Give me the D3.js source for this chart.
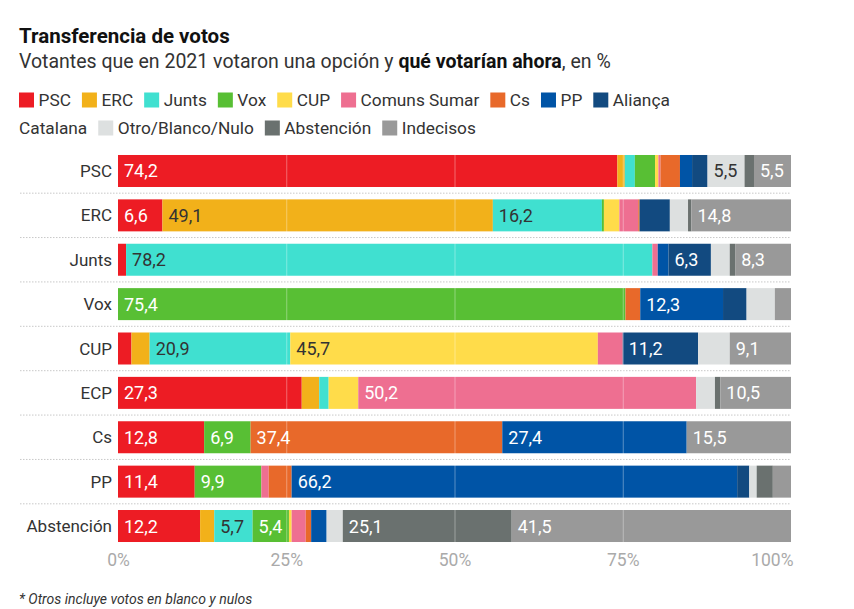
<!DOCTYPE html>
<html><head><meta charset="utf-8">
<script src="https://cdn.jsdelivr.net/npm/d3@7"></script>
<style>body{margin:0;background:#fff}svg{display:block;font-family:Roboto,sans-serif}</style>
</head><body><svg id="c" width="854" height="609"></svg>
<script>
// Voted in 2021 (rows)
const categories = ["PSC","ERC","Junts","Vox","CUP","ECP","Cs","PP","Abstención"];
// Would vote now (series)
const seriesNames = ["PSC","ERC","Junts","Vox","CUP","Comuns Sumar","Cs","PP","Aliança Catalana","Otro/Blanco/Nulo","Abstención","Indecisos"];
// values per series, in order of categories
const vPSC      = [74.2, 6.6, 1.2, 0,    2.0, 27.3, 12.8, 11.4, 12.2];
const vERC      = [1.1, 49.1, 0,   0,    2.7, 2.6,  0,    0,    2.1];
const vJunts    = [1.5, 16.2, 78.2,0,   20.9, 1.4,  0,    0,    5.7];
const vVox      = [3.0, 0.3,  0,  75.4,  0,   0,    6.9,  9.9,  5.4];
const vCUP      = [0.5, 2.3,  0,   0,   45.7, 4.4,  0,    0,    0.4];
const vComuns   = [0.3, 2.8,  0.8, 0,    3.7, 50.2, 0,    1.1,  2.1];
const vCs       = [2.9, 0.2,  0,   2.2,  0,   0,   37.4,  3.4,  0.8];
const vPP       = [1.8, 0,    1.6, 12.3, 0,   0,   27.4, 66.2,  2.3];
const vAlianca  = [2.3, 4.5,  6.3, 3.5, 11.2, 0,    0,    1.8,  0];
const vOtro     = [5.5, 2.7,  2.8, 4.2,  4.7, 2.8,  0,    1.1,  2.4];
const vAbst     = [1.4, 0.5,  0.8, 0,    0,   0.8,  0,    2.4, 25.1];
const vIndec    = [5.5, 14.8, 8.3, 2.4,  9.1, 10.5, 15.5, 2.7, 41.5];
const seriesValues = [vPSC,vERC,vJunts,vVox,vCUP,vComuns,vCs,vPP,vAlianca,vOtro,vAbst,vIndec];
const xTicks = [0,25,50,75,100];
const labelThreshold = 5;

const seriesColors = ["#ed1c24","#f2b11a","#40e0d0","#58bf34","#ffdc4a","#ee6f91","#e8692a","#0054a6","#124a80","#dde0e0","#6a716f","#999999"];
const darkText = new Set(["ERC","Junts","CUP","Otro/Blanco/Nulo"]);

const svg = d3.select("#c");
const rows = categories.map((c,i)=>{const o={cat:c}; seriesNames.forEach((s,j)=>o[s]=seriesValues[j][i]); return o;});
const stack = d3.stack().keys(seriesNames)(rows);

const x = d3.scaleLinear().domain([0,100]).range([118,791]);
const y = d3.scaleBand().domain(categories).range([148.8,548.2]).paddingInner(0.279).paddingOuter(0.1395);

// Title
svg.append("text").attr("x",19).attr("y",43).attr("font-size",20.5).attr("font-weight",700).attr("fill","#111").text("Transferencia de votos");
const sub = svg.append("text").attr("x",19).attr("y",68).attr("font-size",19.5).attr("fill","#333");
sub.append("tspan").text("Votantes que en 2021 votaron una opción y ");
sub.append("tspan").attr("font-weight",700).attr("fill","#111").text("qué votarían ahora");
sub.append("tspan").text(", en %");

// Legend with flow layout
const legend = svg.append("g");
let lx = 19, ly = 0; const lineH = 28, maxX = 700, baseY = 106, lfs = 17.3;
const measure = legend.append("text").attr("font-size",lfs).attr("visibility","hidden");
function tw(t){measure.text(t); return measure.node().getComputedTextLength();}
const spaceW = tw("a b") - tw("ab");
seriesNames.forEach((s,i)=>{
  const words = s.split(" ");
  const w0 = tw(words[0]);
  if (lx + 20 + w0 > maxX) { lx = 19; ly++; }
  legend.append("rect").attr("x",lx).attr("y",baseY+ly*lineH-13.5).attr("width",15).attr("height",15).attr("fill",seriesColors[i]);
  lx += 19.5;
  words.forEach((w,k)=>{
    const ww = tw(w);
    if (k>0) { if (lx + spaceW + ww > maxX) { lx = 19; ly++; } else lx += spaceW; }
    legend.append("text").attr("x",lx).attr("y",baseY+ly*lineH).attr("font-size",lfs).attr("fill","#333").text(w);
    lx += ww;
  });
  lx += 11;
});
measure.remove();

// Row separators
svg.append("g").selectAll("line").data(categories.slice(1)).join("line")
  .attr("x1",20).attr("x2",791)
  .attr("y1",d=>y(d)-y.step()*y.paddingInner()/2).attr("y2",d=>y(d)-y.step()*y.paddingInner()/2)
  .attr("stroke","#c8c8c8").attr("stroke-width",1).attr("stroke-dasharray","1.5,1.5");

// Bars
const gBars = svg.append("g");
stack.forEach((layer,j)=>{
  gBars.append("g").attr("fill",seriesColors[j]).selectAll("rect").data(layer.filter(d=>d[1]-d[0]>0)).join("rect")
    .attr("x",d=>x(d[0])).attr("width",d=>x(d[1])-x(d[0]))
    .attr("y",d=>y(d.data.cat)).attr("height",y.bandwidth());
});

// Gridlines over bars
svg.append("g").selectAll("line").data(xTicks.filter(t=>t>0&&t<100)).join("line")
  .attr("x1",d=>x(d)+0.5).attr("x2",d=>x(d)+0.5).attr("y1",y.range()[0]+4).attr("y2",y.range()[1]-4)
  .attr("stroke","#fff").attr("stroke-opacity",0.35).attr("stroke-width",1);

// Value labels
const fmt = v => d3.format(".1f")(v).replace(".",",");
stack.forEach((layer,j)=>{
  const name = seriesNames[j];
  svg.append("g").selectAll("text").data(layer.filter(d=>d[1]-d[0]>=labelThreshold)).join("text")
    .attr("x",d=>x(d[0])+6).attr("y",d=>y(d.data.cat)+y.bandwidth()/2+6.5)
    .attr("font-size",18).attr("fill",darkText.has(name)?"#333":"#fff")
    .text(d=>fmt(d[1]-d[0]));
});

// Category labels
svg.append("g").selectAll("text").data(categories).join("text")
  .attr("x",112).attr("y",d=>y(d)+y.bandwidth()/2+6).attr("text-anchor","end")
  .attr("font-size",17).attr("fill","#333").text(d=>d);

// X axis
const xAxis = d3.axisBottom(x).tickValues(xTicks).tickSize(0).tickFormat(d=>d+"%");
const ax = svg.append("g").attr("transform","translate(0,548)").call(xAxis);
ax.select(".domain").remove();
ax.selectAll("text").attr("font-size",17.5).attr("fill","#aaa").attr("font-family","Roboto,sans-serif").attr("dy",0).attr("y",18)
  .attr("text-anchor",d=>d===100?"end":"middle").attr("dx",d=>d===100?2:0);

// Footnote
svg.append("text").attr("x",19).attr("y",604).attr("font-size",14).attr("font-style","italic").attr("fill","#333")
  .text("* Otros incluye votos en blanco y nulos");
</script></body></html>
